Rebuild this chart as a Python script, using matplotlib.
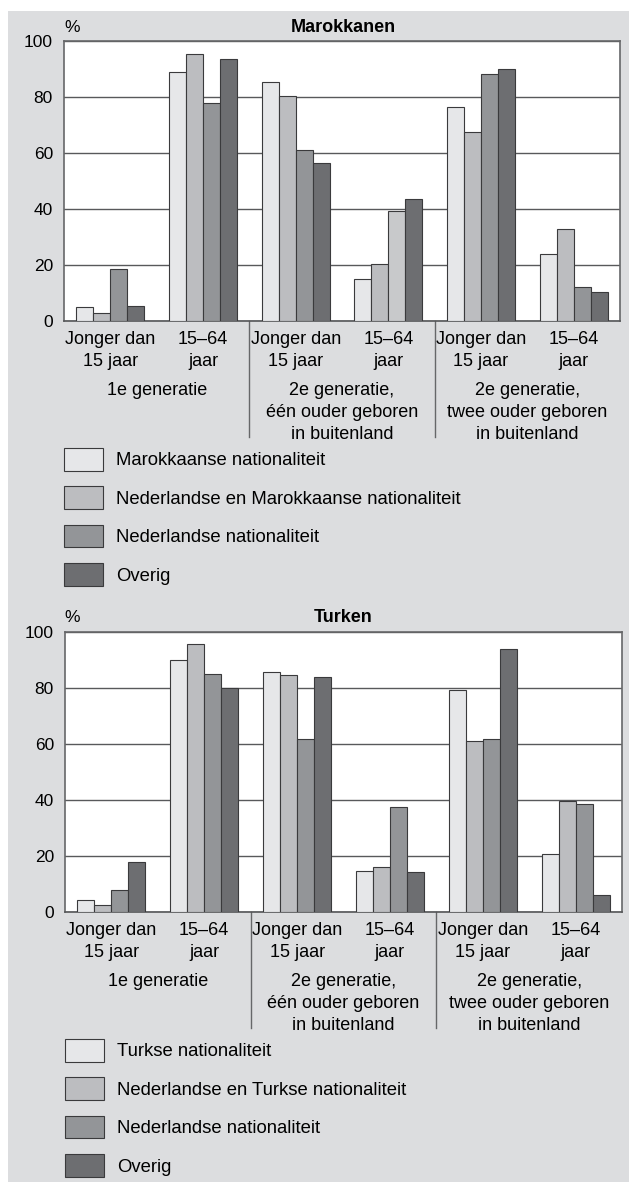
""" plot.py
nationaliteit van Marokkanen en Turken naar generatie en leeftijd
"""

import numpy as np
import matplotlib
matplotlib.use('Agg')
import matplotlib.pyplot as plt
from matplotlib.patches import Rectangle

# categories
age_labels = ['Jonger dan\n15 jaar', '15–64\njaar'] * 3
generations = ['1e generatie',
               '2e generatie,\néén ouder geboren\nin buitenland',
               '2e generatie,\ntwee ouder geboren\nin buitenland']

# Marokkanen (%)
mar_series = ['Marokkaanse nationaliteit', 'Nederlandse en Marokkaanse nationaliteit',
              'Nederlandse nationaliteit', 'Overig']
mar_marokkaans = [5.0, 89.1, 85.4, 15.1, 76.5, 24.0]
mar_ned_mar = [2.9, 95.5, 80.4, 20.2, 67.6, 32.7]
mar_ned = [18.6, 77.9, 60.9, 39.4, 88.3, 12.2]
mar_overig = [5.4, 93.7, 56.6, 43.5, 90.1, 10.3]

# Turken (%)
tur_series = ['Turkse nationaliteit', 'Nederlandse en Turkse nationaliteit',
              'Nederlandse nationaliteit', 'Overig']
tur_turks = [4.2, 89.9, 85.7, 14.6, 79.4, 20.8]
tur_ned_tur = [2.4, 95.8, 84.5, 15.9, 60.9, 39.5]
tur_ned = [7.9, 85.1, 61.7, 37.5, 61.7, 38.5]
tur_overig = [17.7, 80.0, 84.1, 14.2, 93.9, 6.2]

colors = ['#e6e7e9', '#bcbdc0', '#939598', '#6d6e71']
panel_grey = '#dcdddf'
line_grey = '#666769'

W, H = 629, 1182
FS = 13

plt.rcParams['font.family'] = ['Liberation Sans', 'DejaVu Sans']
plt.rcParams['font.size'] = FS


def fx(x):
    return x / W


def fy(y):
    return 1 - y / H


def draw_panel(fig, rect, title, series_names, values, legend_top, legend_left):
    ax = fig.add_axes(rect)
    x = np.arange(len(age_labels))
    w = 0.183
    bars = []
    for i, (name, vals) in enumerate(zip(series_names, values)):
        b = ax.bar(x + (i - 1.5) * w, vals, w, color=colors[i], edgecolor='#3a3a3c',
                   linewidth=0.8, label=name, zorder=3)
        bars.append(b)

    ax.set_xlim(-0.5, len(age_labels) - 0.5)
    ax.set_ylim(0, 100)
    ax.set_yticks(range(0, 101, 20))
    ax.yaxis.grid(True, color='#58595b', linewidth=1.0, zorder=0)
    ax.set_axisbelow(True)
    for s in ax.spines.values():
        s.set_color(line_grey)
        s.set_linewidth(1.2)
    ax.spines['bottom'].set_color('#555658')
    ax.tick_params(axis='y', length=0, pad=8, labelsize=12.5)
    ax.set_xticks(x)
    ax.set_xticklabels(age_labels, linespacing=1.38)
    ax.tick_params(axis='x', length=0, pad=7)

    # generation labels and dividers
    for g, lab in enumerate(generations):
        ax.annotate(lab, xy=(2 * g + 0.5, 0), xycoords=('data', 'axes fraction'),
                    xytext=(0, -61), textcoords='offset pixels', ha='center', va='top',
                    linespacing=1.38, fontsize=FS)
    for xd in [1.5, 3.5]:
        ax.plot([xd, xd], [0, -116 / 280], color=line_grey, linewidth=1.0,
                transform=ax.get_xaxis_transform(), clip_on=False)

    top = rect_top_px[title]
    fig.text(fx(72), fy(top - 14), '%', ha='center', va='center', fontsize=12.5)
    fig.text(fx(343), fy(top - 14), title, ha='center', va='center',
             fontsize=13, fontweight='bold')

    fig.legend(handles=bars, labels=series_names, loc='upper left',
               bbox_to_anchor=(fx(legend_left), fy(legend_top)), bbox_transform=fig.transFigure,
               frameon=False, borderpad=0, borderaxespad=0, handlelength=2.1,
               handleheight=1.5, handletextpad=0.7, labelspacing=0.86, fontsize=13.3)
    return ax, bars


rect_top_px = {'Marokkanen': 41, 'Turken': 632}

fig = plt.figure(figsize=(W / 100, H / 100), dpi=100)
fig.patch.set_facecolor('white')
fig.add_artist(Rectangle((fx(8), 0), 1 - fx(8), fy(11), transform=fig.transFigure,
                         facecolor=panel_grey, edgecolor='none', zorder=-10))

ax1, bars1 = draw_panel(fig, [fx(64), fy(321), fx(556), 280 / H], 'Marokkanen', mar_series,
                        [mar_marokkaans, mar_ned_mar, mar_ned, mar_overig], 448, 64)
# the bar for Nederlandse nationaliteit, 2e gen. 15-64 jaar is printed lighter in the source
bars1[2][3].set_facecolor('#c8c9cb')

ax2, bars2 = draw_panel(fig, [fx(65), fy(912), fx(557), 280 / H], 'Turken', tur_series,
                        [tur_turks, tur_ned_tur, tur_ned, tur_overig], 1039, 65)

plt.savefig('out.png', dpi=100, facecolor=fig.get_facecolor())
